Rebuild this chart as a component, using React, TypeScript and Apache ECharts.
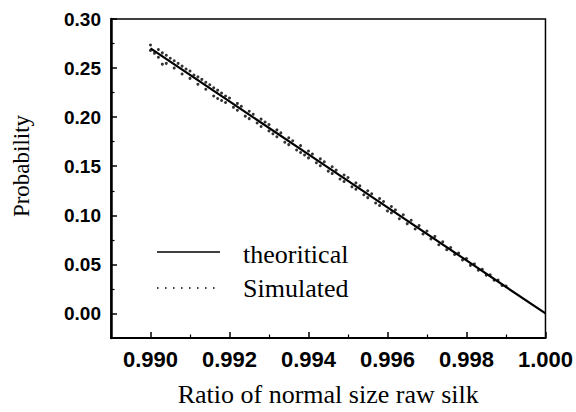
import React, { useEffect, useRef } from "react";
import * as echarts from "echarts";

const xTickLabels = [0.99, 0.992, 0.994, 0.996, 0.998, 1.0];
const xMinorTicks = [0.991, 0.993, 0.995, 0.997, 0.999];
const yTickLabels = [0, 0.05, 0.1, 0.15, 0.2, 0.25, 0.3];
const yMinorTicks = [0.025, 0.075, 0.125, 0.175, 0.225, 0.275];

const theoreticalX = [0.99, 0.992, 0.994, 0.996, 0.998, 1.0];
const theoreticalY = [0.27, 0.216, 0.162, 0.108, 0.054, 0.0];

const simulated: [number, number][] = [
  [0.99, 0.2735], [0.99, 0.268], [0.9901, 0.265], [0.9902, 0.269], [0.9902, 0.261], [0.9903, 0.254],
  [0.9903, 0.2655], [0.9904, 0.2548], [0.9904, 0.263], [0.9905, 0.26], [0.9906, 0.2575], [0.9906, 0.25],
  [0.9907, 0.2548], [0.9908, 0.244], [0.9908, 0.252], [0.9909, 0.249], [0.991, 0.247], [0.991, 0.2395],
  [0.9911, 0.243], [0.9912, 0.2335], [0.9912, 0.241], [0.9913, 0.2385], [0.9914, 0.2355], [0.9914, 0.2285],
  [0.9915, 0.233], [0.9916, 0.23], [0.9916, 0.2215], [0.9917, 0.2275], [0.9917, 0.219], [0.9918, 0.2245],
  [0.9918, 0.217], [0.9919, 0.215], [0.9919, 0.2215], [0.992, 0.2195], [0.9921, 0.21], [0.9922, 0.214],
  [0.9922, 0.207], [0.9923, 0.211], [0.9924, 0.201], [0.9925, 0.206], [0.9925, 0.1985], [0.9926, 0.203],
  [0.9927, 0.194], [0.9928, 0.1905], [0.9928, 0.198], [0.9929, 0.195], [0.993, 0.1925], [0.993, 0.186],
  [0.9931, 0.183], [0.9932, 0.187], [0.9932, 0.18], [0.9933, 0.184], [0.9934, 0.1745], [0.9935, 0.179],
  [0.9935, 0.172], [0.9936, 0.176], [0.9937, 0.1665], [0.9938, 0.171], [0.9938, 0.164], [0.9939, 0.1615],
  [0.994, 0.1655], [0.994, 0.1585], [0.9941, 0.1625], [0.9942, 0.1535], [0.9943, 0.1575], [0.9943, 0.1505],
  [0.9944, 0.1545], [0.9945, 0.145], [0.9946, 0.1495], [0.9946, 0.1425], [0.9947, 0.146], [0.9948, 0.137],
  [0.9949, 0.141], [0.9949, 0.1345], [0.995, 0.1385], [0.9951, 0.129], [0.9952, 0.133], [0.9952, 0.1265],
  [0.9953, 0.13], [0.9954, 0.121], [0.9955, 0.125], [0.9955, 0.118], [0.9956, 0.122], [0.9957, 0.1125],
  [0.9958, 0.117], [0.9958, 0.11], [0.9959, 0.114], [0.996, 0.1045], [0.9961, 0.109], [0.9961, 0.1025],
  [0.9962, 0.1055], [0.9963, 0.0965], [0.9964, 0.1005], [0.9965, 0.0915], [0.9966, 0.095], [0.9967, 0.086],
  [0.9968, 0.0895], [0.9969, 0.081], [0.997, 0.084], [0.9971, 0.076], [0.9972, 0.0785], [0.9973, 0.07],
  [0.9974, 0.073], [0.9975, 0.065], [0.9976, 0.0672], [0.9977, 0.06], [0.9978, 0.0615], [0.9979, 0.0545],
  [0.998, 0.056], [0.9981, 0.049], [0.9982, 0.0505], [0.9983, 0.044], [0.9984, 0.045], [0.9985, 0.039],
  [0.9986, 0.0395], [0.9987, 0.0338], [0.9988, 0.034], [0.9989, 0.0285], [0.999, 0.028],
];

const legendNames = ["theoritical", "Simulated"];
const xTitle = "Ratio of normal size raw silk";
const yTitle = "Probability";

const X_MIN = 0.989;
const X_MAX = 1.0;
const Y_MIN = -0.025;
const Y_MAX = 0.3;

export default function App() {
  const ref = useRef<HTMLDivElement>(null);
  useEffect(() => {
    if (!ref.current) return;
    const chart = echarts.init(ref.current, null, { renderer: "svg" });
    const tickFont = { fontFamily: "Liberation Sans", fontWeight: "bold" as const, color: "#000" };
    const serif = "Liberation Serif";
    chart.setOption({
      animation: false,
      backgroundColor: "#fff",
      grid: {
        left: 111,
        right: 29,
        top: 19,
        bottom: 71,
        show: true,
        borderColor: "#000",
        borderWidth: 1.5,
        backgroundColor: "transparent",
      },
      xAxis: [
        {
          type: "value",
          min: X_MIN,
          max: X_MAX,
          position: "bottom",
          axisLine: { show: true, onZero: false, lineStyle: { color: "#000", width: 2 } },
          axisTick: { show: true, inside: true, length: 6, customValues: xTickLabels, lineStyle: { color: "#000", width: 1.5 } },
          axisLabel: {
            show: true,
            customValues: xTickLabels,
            formatter: (v: number) => v.toFixed(3),
            fontSize: 22,
            margin: 10,
            ...tickFont,
          },
          splitLine: { show: false },
          name: xTitle,
          nameLocation: "middle",
          nameGap: 43,
          nameTextStyle: { fontFamily: serif, fontSize: 26, color: "#000" },
        },
        {
          type: "value",
          min: X_MIN,
          max: X_MAX,
          position: "bottom",
          axisLine: { show: false, onZero: false },
          axisTick: { show: true, inside: true, length: 3.5, customValues: xMinorTicks, lineStyle: { color: "#000", width: 1.2 } },
          axisLabel: { show: false },
          splitLine: { show: false },
        },
      ],
      yAxis: [
        {
          type: "value",
          min: Y_MIN,
          max: Y_MAX,
          position: "left",
          axisLine: { show: true, onZero: false, lineStyle: { color: "#000", width: 2.5 } },
          axisTick: { show: true, inside: true, length: 6, customValues: yTickLabels, lineStyle: { color: "#000", width: 1.5 } },
          axisLabel: {
            show: true,
            customValues: yTickLabels,
            formatter: (v: number) => v.toFixed(2),
            fontSize: 19,
            margin: 10,
            ...tickFont,
          },
          splitLine: { show: false },
        },
        {
          type: "value",
          min: Y_MIN,
          max: Y_MAX,
          position: "left",
          axisLine: { show: false, onZero: false },
          axisTick: { show: true, inside: true, length: 3.5, customValues: yMinorTicks, lineStyle: { color: "#000", width: 1.2 } },
          axisLabel: { show: false },
          splitLine: { show: false },
        },
      ],
      series: [
        {
          name: legendNames[0],
          type: "line",
          xAxisIndex: 0,
          yAxisIndex: 0,
          data: theoreticalX.map((x, i) => [x, theoreticalY[i]]),
          showSymbol: false,
          symbol: "none",
          lineStyle: { color: "#000", width: 2.2 },
          z: 2,
        },
        {
          name: legendNames[1],
          type: "scatter",
          xAxisIndex: 0,
          yAxisIndex: 0,
          data: simulated,
          symbol: "circle",
          symbolSize: 3,
          itemStyle: { color: "#000" },
          z: 3,
        },
      ],
      graphic: [
        {
          type: "line",
          shape: { x1: 157, y1: 252, x2: 220, y2: 252 },
          style: { stroke: "#000", lineWidth: 1.5 },
        },
        {
          type: "line",
          shape: { x1: 157, y1: 288, x2: 220, y2: 288 },
          style: { stroke: "#000", lineWidth: 1.5, lineDash: [1.5, 6.5] },
        },
        {
          type: "text",
          x: 243,
          y: 254,
          style: { text: legendNames[0], fontFamily: serif, fontSize: 26, fill: "#000", align: "left", verticalAlign: "middle" },
        },
        {
          type: "text",
          x: 243,
          y: 288,
          style: { text: legendNames[1], fontFamily: serif, fontSize: 26, fill: "#000", align: "left", verticalAlign: "middle" },
        },
        {
          type: "text",
          x: 21,
          y: 166,
          rotation: Math.PI / 2,
          style: { text: yTitle, fontFamily: serif, fontSize: 23, fill: "#000", align: "center", verticalAlign: "middle" },
        },
      ],
    });
    return () => chart.dispose();
  }, []);
  return <div ref={ref} style={{ width: 576, height: 412, position: "absolute", left: 0, top: 0 }} />;
}
